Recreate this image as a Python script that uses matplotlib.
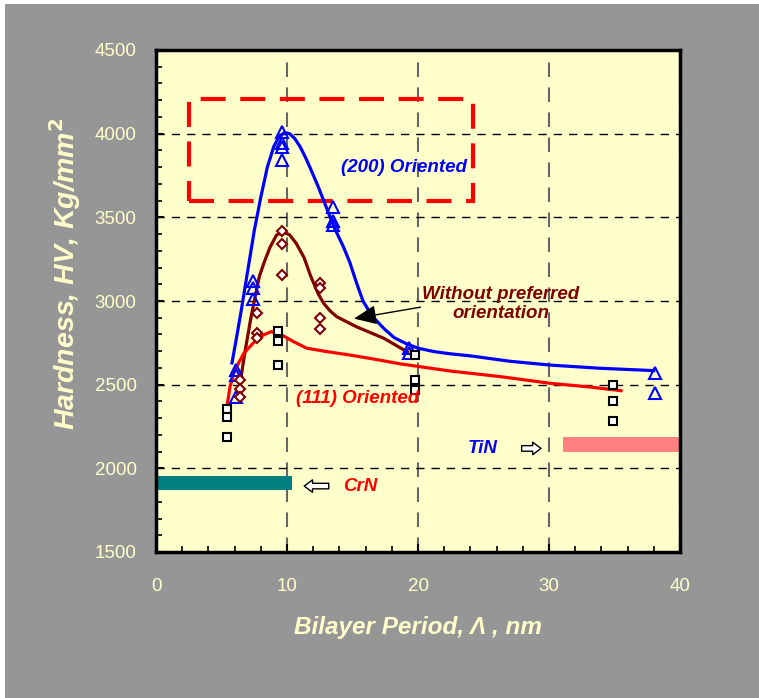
import matplotlib
matplotlib.use("Agg")
import matplotlib.pyplot as plt
from matplotlib.patches import Rectangle
from matplotlib.ticker import MultipleLocator

plt.rcParams['font.family'] = ['Liberation Sans', 'DejaVu Sans']

# measured hardness points
tin_x = [6.1, 6.1, 6.1, 7.4, 7.4, 7.4, 9.6, 9.6, 9.6, 9.6, 13.5, 13.5, 13.5, 19.3, 19.3, 38.1, 38.1]
tin_y = [2590, 2560, 2425, 3120, 3075, 3010, 4010, 3945, 3920, 3845, 3560, 3480, 3455, 2720, 2690, 2570, 2450]

mix_x = [6.4, 6.4, 6.4, 7.7, 7.7, 7.7, 9.6, 9.6, 9.6, 12.5, 12.5, 12.5, 12.5]
mix_y = [2525, 2475, 2425, 2930, 2810, 2780, 3420, 3340, 3155, 3105, 3075, 2900, 2830]

crn_x = [5.4, 5.4, 5.4, 9.3, 9.3, 9.3, 19.8, 19.8, 19.8, 34.9, 34.9, 34.9]
crn_y = [2355, 2305, 2190, 2820, 2760, 2615, 2680, 2525, 2470, 2500, 2400, 2285]

# fitted curves
c200_x = [5.8, 6.1, 6.5, 7.0, 7.5, 8.0, 8.5, 9.0, 9.4, 9.8, 10.2, 10.6, 11.0, 11.4, 11.8, 12.4,
          13.0, 13.6, 14.3, 14.8, 15.3, 15.8, 16.5, 17.4, 18.2, 19.1, 20.0, 21.2, 22.4, 24.0, 27.0,
          30.1, 33.9, 38.0]
c200_y = [2630, 2760, 2940, 3180, 3420, 3620, 3800, 3925, 3982, 4006, 4000, 3970, 3922, 3860, 3790,
          3680, 3560, 3440, 3325, 3230, 3110, 3000, 2910, 2835, 2780, 2745, 2718, 2698, 2685, 2672,
          2640, 2617, 2598, 2584]

cmix_x = [6.5, 6.8, 7.2, 7.5, 7.9, 8.3, 8.7, 9.2, 9.7, 10.2, 10.7, 11.3, 11.8, 12.4, 12.8,
          13.3, 13.8, 15.3, 17.4, 19.2]
cmix_y = [2550, 2700, 2880, 3000, 3150, 3240, 3320, 3394, 3414, 3395, 3345, 3260, 3150, 3040, 2986,
          2940, 2906, 2846, 2777, 2695]

c111_x = [5.4, 5.65, 6.0, 6.7, 7.4, 8.2, 8.8, 9.6, 10.5, 11.5, 13.0, 14.8, 16.7, 18.6, 22.4,
          26.3, 30.1, 33.0, 35.5]
c111_y = [2359, 2488, 2585, 2687, 2747, 2797, 2817, 2797, 2757, 2718, 2698, 2677, 2652, 2625, 2582,
          2548, 2508, 2487, 2464]

cream = '#FFFFCC'
dred = '#800000'

fig = plt.figure(figsize=(7.59, 6.98), dpi=100, facecolor='white')
fig.patches.append(Rectangle((5 / 759, 0), 1, 694 / 698, transform=fig.transFigure,
                             facecolor='#969696', edgecolor='none', zorder=-10))
ax = fig.add_axes([156 / 759, 146 / 698, 524 / 759, 502 / 698])
ax.set_facecolor(cream)

ax.set_xlim(0, 40)
ax.set_ylim(1500, 4500)
ax.xaxis.set_major_locator(MultipleLocator(10))
ax.xaxis.set_minor_locator(MultipleLocator(2))
ax.yaxis.set_major_locator(MultipleLocator(500))
ax.yaxis.set_minor_locator(MultipleLocator(100))
ax.tick_params(which='both', direction='in', colors='black', labelcolor=cream,
               labelsize=13.5, top=False, right=False)
ax.tick_params(which='major', length=6, width=1.5)
ax.tick_params(axis='x', which='major', pad=19)
ax.tick_params(axis='y', which='major', pad=14)
ax.tick_params(which='minor', length=4, width=1.2)
for s in ax.spines.values():
    s.set_linewidth(2.5)

ax.grid(True, axis='y', which='major', color='black', linestyle=(0, (6, 5)), linewidth=1)
ax.grid(True, axis='x', which='major', color='#666666', linestyle=(0, (7, 5)), linewidth=1.5)
ax.set_axisbelow(True)

# reference bars for single-layer hardness
ax.add_patch(Rectangle((0, 1870), 10.4, 85, facecolor='#008080', edgecolor='none', zorder=2))
ax.add_patch(Rectangle((31.1, 2099), 8.9, 86, facecolor='#FF8080', edgecolor='none', zorder=2))

# dashed highlight box
ax.add_patch(Rectangle((2.5, 3600), 21.7, 610, facecolor='none', edgecolor='#FF0000',
                       linewidth=3, linestyle=(0, (6, 3.5)), zorder=3))

ax.plot(c200_x, c200_y, color='#0000FF', lw=2.3, zorder=4)
ax.plot(cmix_x, cmix_y, color=dred, lw=2.3, zorder=4)
ax.plot(c111_x, c111_y, color='#FF0000', lw=2.3, zorder=4)

ax.plot(tin_x, tin_y, '^', ms=8, mfc='none', mec='#0000FF', mew=1.5, zorder=5)
ax.plot(mix_x, mix_y, 'D', ms=5.5, mfc='white', mec=dred, mew=1.5, zorder=5)
ax.plot(crn_x, crn_y, 's', ms=6, mfc='white', mec='black', mew=1.5, zorder=5)

lab = dict(fontsize=13.5, fontweight='bold', fontstyle='italic', zorder=6)
ax.text(18.9, 3795, '(200) Oriented', color='#0000FF', ha='center', va='center', **lab)
ax.text(26.3, 2982, 'Without preferred\norientation', color=dred, ha='center', va='center',
        linespacing=1.15, **lab)
ax.text(15.4, 2420, '(111) Oriented', color='#FF0000', ha='center', va='center', **lab)
ax.text(24.9, 2119, 'TiN', color='#0000FF', ha='center', va='center', **lab)
ax.text(14.3, 1894, 'CrN', color='#FF0000', ha='left', va='center', **lab)

ax.annotate('', xy=(14.9, 2892), xytext=(20.4, 2966),
            arrowprops=dict(arrowstyle='-|>,head_length=1.4,head_width=0.6', color='black',
                            lw=1), zorder=6)
hollow = dict(arrowstyle='simple,head_length=0.6,head_width=0.9,tail_width=0.4',
              fc='white', ec='black', lw=1)
ax.annotate('', xy=(11.1, 1894), xytext=(13.4, 1894), arrowprops=hollow, zorder=6)
ax.annotate('', xy=(29.6, 2119), xytext=(27.7, 2119), arrowprops=hollow, zorder=6)

ax.set_xlabel('Bilayer Period, Λ , nm', color=cream, fontsize=17.5, fontweight='bold',
              fontstyle='italic')
ax.xaxis.set_label_coords(0.5, -0.128)
ax.set_ylabel('Hardness, HV, Kg/mm$^{\\mathbf{2}}$', color=cream, fontsize=20.5,
              fontweight='bold', fontstyle='italic')
ax.yaxis.set_label_coords(-0.14, 0.554)

fig.savefig('out.png', dpi=100, facecolor=fig.get_facecolor())
